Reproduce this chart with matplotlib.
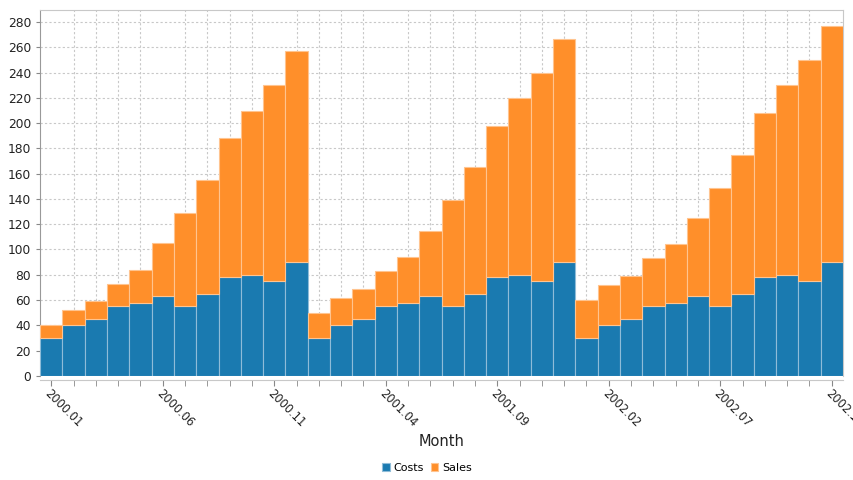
import matplotlib.pyplot as plt
import numpy as np

# Monthly values, 2000.01 - 2002.12
months = [f"{y}.{m:02d}" for y in (2000, 2001, 2002) for m in range(1, 13)]
costs = [30, 40, 45, 55, 58, 63, 55, 65, 78, 80, 75, 90,
         30, 40, 45, 55, 58, 63, 55, 65, 78, 80, 75, 90,
         30, 40, 45, 55, 58, 63, 55, 65, 78, 80, 75, 90]
totals = [40, 52, 59, 73, 84, 105, 129, 155, 188, 210, 230, 257,
          50, 62, 69, 83, 94, 115, 139, 165, 198, 220, 240, 267,
          60, 72, 79, 93, 104, 125, 149, 175, 208, 230, 250, 277]
sales = [t - c for t, c in zip(totals, costs)]

blue = '#1a7ab0'
orange = '#ff8f2a'
grey = '#c8c8c8'
text_col = '#222222'


def main():
    fig = plt.figure(figsize=(8.54, 4.8), dpi=100)
    ax = fig.add_axes([0.047, 0.217, 0.94, 0.762])

    x = np.arange(len(months))
    ax.bar(x, costs, width=1.0, color=blue, edgecolor='#8fbcd8', linewidth=0.8,
           label='Costs', zorder=3)
    ax.bar(x, sales, width=1.0, bottom=costs, color=orange, edgecolor='#ffc48f',
           linewidth=0.8, label='Sales', zorder=3)

    ax.set_xlim(-0.5, len(months) - 0.5)
    ax.set_ylim(0, 289.5)
    ax.set_yticks(range(0, 281, 20))
    ax.tick_params(axis='y', labelsize=8.8, colors=text_col, length=3, color='#888888')
    ax.tick_params(axis='x', which='both', length=4, color='#888888', pad=1)

    ax.grid(True, which='minor', axis='x', linestyle=(0, (2, 2)), color=grey,
            linewidth=0.8, zorder=0)
    ax.grid(True, which='major', axis='y', linestyle=(0, (2, 2)), color=grey,
            linewidth=0.8, zorder=0)
    ax.set_axisbelow(True)

    for side in ('top', 'right', 'bottom'):
        ax.spines[side].set_color(grey)
    ax.spines['bottom'].set_position(('outward', 3))
    ax.spines['left'].set_color('#999999')

    # month ticks, label every fifth month
    ax.set_xticks(x, minor=True)
    ax.set_xticks(x[::5], labels=months[::5], fontsize=8.3, color=text_col,
                  rotation=-45, ha='left', va='top', rotation_mode='anchor')

    fig.text(0.517, 1 - 442 / 480, 'Month', fontsize=10.5, color=text_col,
             ha='center', va='center')

    fig.legend(loc='center', ncol=2, frameon=False, fontsize=8,
               handlelength=0.7, handleheight=0.7, handletextpad=0.3,
               columnspacing=0.6, bbox_to_anchor=(0.5, 1 - 468 / 480))

    fig.savefig('out.png', dpi=100)


if __name__ == "__main__":
    main()
